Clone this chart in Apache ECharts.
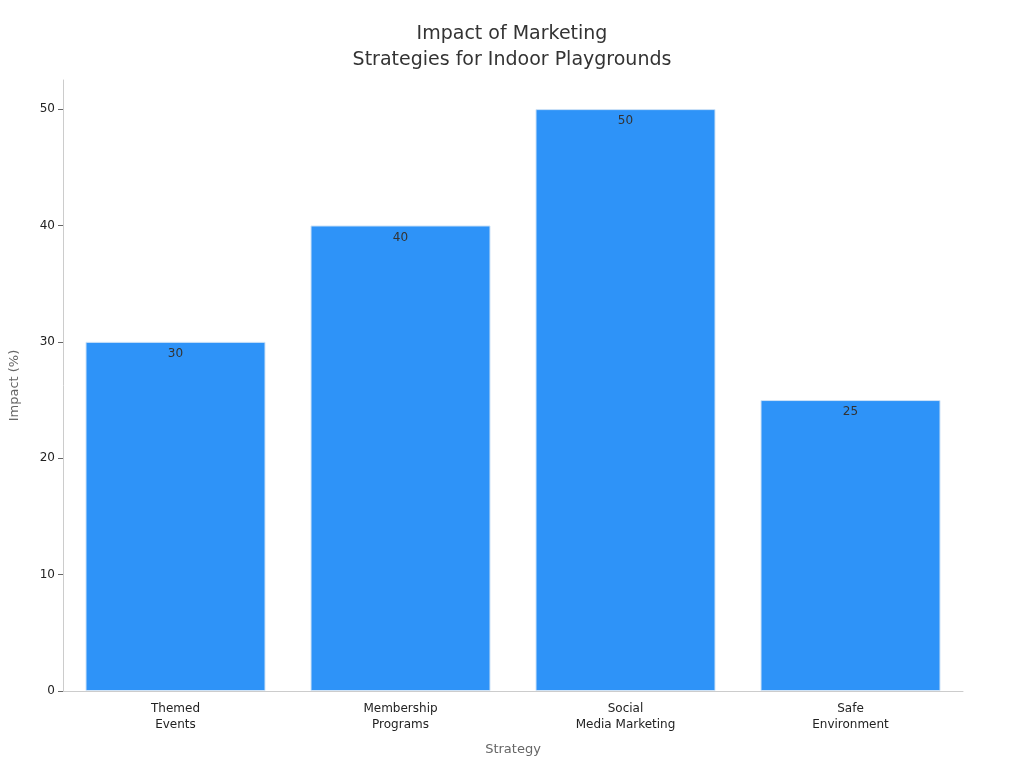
<!DOCTYPE html>
<html><head><meta charset="utf-8">
<script src="https://cdn.jsdelivr.net/npm/echarts@6/dist/echarts.min.js"></script>
<style>html,body{margin:0;padding:0}#c{width:1024px;height:768px}</style>
</head><body><div id="c"></div>
<script>
const categories = ["Themed\nEvents","Membership\nPrograms","Social\nMedia Marketing","Safe\nEnvironment"];
const values = [30,40,50,25];
const chart = echarts.init(document.getElementById('c'));
chart.setOption({
  textStyle:{fontFamily:'DejaVu Sans'},
  title:{text:'Impact of Marketing\nStrategies for Indoor Playgrounds',left:'center',top:16,
    textStyle:{fontSize:19,fontWeight:'normal',color:'#333',lineHeight:26,fontFamily:'DejaVu Sans'}},
  grid:{left:59,right:61,top:80,bottom:77},
  xAxis:{type:'category',data:categories,name:'Strategy',nameLocation:'middle',nameGap:52,
    nameTextStyle:{fontSize:13,color:'#666'},
    axisLine:{lineStyle:{color:'#ccc'}},axisTick:{show:false},
    axisLabel:{color:'#222',fontSize:12,lineHeight:16,margin:10}},
  yAxis:{type:'value',min:0,max:52.5,interval:10,name:'Impact (%)',nameLocation:'middle',nameGap:42,
    nameTextStyle:{fontSize:13,color:'#666'},
    axisLine:{show:true,lineStyle:{color:'#ccc'}},axisTick:{show:true,lineStyle:{color:'#666'}},
    splitLine:{show:false},axisLabel:{color:'#222',fontSize:12,showMaxLabel:false}},
  series:[{type:'bar',data:values,barCategoryGap:'20%',
    itemStyle:{color:'#2E93F8',borderColor:'#cfe3f7',borderWidth:1},
    label:{show:true,position:'insideTop',color:'#333',fontSize:12,offset:[0,1]}}]
});
</script></body></html>
